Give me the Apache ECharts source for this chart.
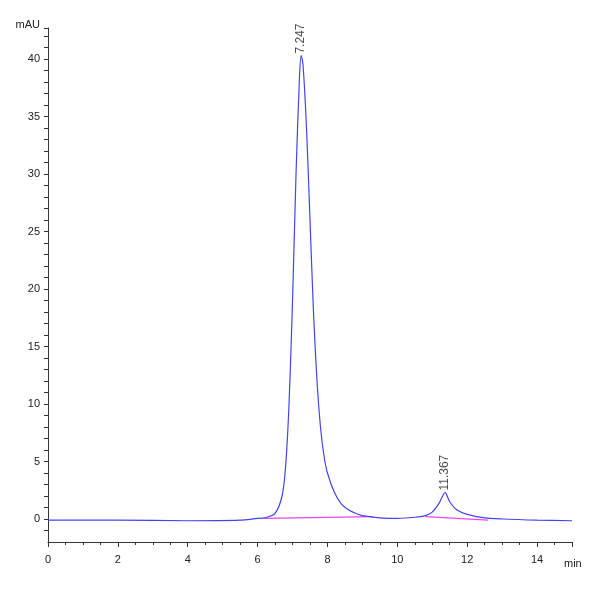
<!DOCTYPE html><html><head><script src="https://cdn.jsdelivr.net/npm/echarts@6/dist/echarts.min.js"></script></head><body style="margin:0"><div id="c" style="width:600px;height:600px"></div><script>
const times=[0,2,4,5.5,6.0,6.2,6.5,6.7,6.8,6.9,7.0,7.1,7.2,7.247,7.3,7.4,7.5,7.6,7.7,7.8,7.9,8.0,8.2,8.4,8.6,8.8,9.0,9.5,10,10.5,10.8,11.0,11.2,11.367,11.5,11.7,12.0,12.5,13,14,15];
const signal=[-0.1,-0.1,-0.15,-0.1,0.05,0.1,0.5,2,4.5,10,19,30,38.5,40.3,39.5,34,26,18,12,8,5.5,4,2.3,1.3,0.8,0.5,0.3,0.1,0.05,0.15,0.3,0.6,1.4,2.3,1.5,0.8,0.4,0.1,0,-0.1,-0.15];
const base1=[[6.2,0.05],[9.3,0.2]];
const base2=[[10.8,0.2],[12.6,-0.1]];
const peaks=[[7.247,40.3,'7.247'],[11.367,2.3,'11.367']];
const font='Liberation Sans';
const c=echarts.init(document.getElementById('c'));
c.setOption({animation:false,
grid:{left:48,right:28,top:28,bottom:58},
xAxis:{type:'value',min:0,max:15,interval:2,name:'min',nameLocation:'end',nameGap:-8,nameTextStyle:{fontFamily:font,fontSize:11,color:'#222',verticalAlign:'top',padding:[12,0,0,0]},
axisLine:{onZero:false,lineStyle:{color:'#333'}},axisTick:{length:5,lineStyle:{color:'#333'}},minorTick:{show:true,splitNumber:4,length:3,lineStyle:{color:'#333'}},splitLine:{show:false},
axisLabel:{fontFamily:font,fontSize:11,color:'#222',showMaxLabel:false}},
yAxis:{type:'value',min:-2,max:42.7,interval:1,name:'mAU',nameLocation:'end',nameGap:-6,nameTextStyle:{fontFamily:font,fontSize:11,color:'#222',align:'right',padding:[0,8,0,0]},
axisLine:{onZero:false,lineStyle:{color:'#333'}},axisTick:{length:4,lineStyle:{color:'#333'}},splitLine:{show:false},
axisLabel:{fontFamily:font,fontSize:11,color:'#222',showMinLabel:false,formatter:v=>(Math.round(v)%5===0&&v>=0)?String(Math.round(v)):''}},
series:[
{type:'line',data:base1,symbol:'none',lineStyle:{color:'#ee44ee',width:1.2}},
{type:'line',data:base2,symbol:'none',lineStyle:{color:'#ee44ee',width:1.2}},
{type:'line',data:times.map((t,i)=>[t,signal[i]]),symbol:'none',smooth:0.3,lineStyle:{color:'#4444ee',width:1.2}},
{type:'scatter',data:peaks.map(p=>({value:[p[0],p[1]],label:{formatter:p[2]}})),symbolSize:0,
label:{show:true,rotate:90,position:'top',distance:2,align:'left',verticalAlign:'middle',fontFamily:font,fontSize:12,color:'#222'}}
]});
</script></body></html>
